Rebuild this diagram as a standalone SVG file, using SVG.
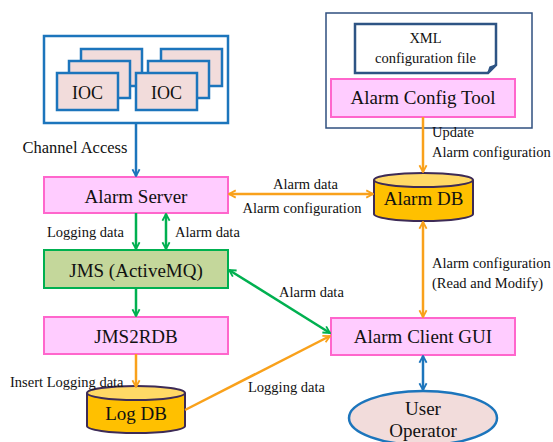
<svg xmlns="http://www.w3.org/2000/svg" width="553" height="442" viewBox="0 0 553 442" font-family="'Liberation Serif', 'DejaVu Serif', serif">
<style>
text{font-family:'Liberation Serif','DejaVu Serif',serif;fill:#111}
.n{font-size:19px;text-anchor:middle}
.l{font-size:14.5px}
.pink{fill:#ffccff;stroke:#ff66cc;stroke-width:2}
.ioc{fill:#f2dcdb;stroke:#1c75bc;stroke-width:2.5}
.db{fill:#ffc000;stroke:#3d2b56;stroke-width:2}
.dbt{fill:#ffd966;stroke:#3d2b56;stroke-width:2}
.cb{stroke:#1c75bc;stroke-width:2.5;fill:none}
.cg{stroke:#00b050;stroke-width:2.5;fill:none}
.co{stroke:#f9a11b;stroke-width:2.5;fill:none}
</style>
<defs>
<marker id="ab" viewBox="0 0 10 10" refX="8.5" refY="5" markerWidth="9" markerHeight="11" markerUnits="userSpaceOnUse" orient="auto-start-reverse"><path d="M1,1 L8.5,5 L1,9" fill="none" stroke="#1c75bc" stroke-width="2"/></marker>
<marker id="ag" viewBox="0 0 10 10" refX="8.5" refY="5" markerWidth="9" markerHeight="11" markerUnits="userSpaceOnUse" orient="auto-start-reverse"><path d="M1,1 L8.5,5 L1,9" fill="none" stroke="#00b050" stroke-width="2"/></marker>
<marker id="ao" viewBox="0 0 10 10" refX="8.5" refY="5" markerWidth="9" markerHeight="11" markerUnits="userSpaceOnUse" orient="auto-start-reverse"><path d="M1,1 L8.5,5 L1,9" fill="none" stroke="#f9a11b" stroke-width="2"/></marker>
</defs>
<rect width="553" height="442" fill="#fff"/>

<g id="ioc-group">
<rect x="44" y="36" width="184" height="87" fill="#fff" stroke="#1c75bc" stroke-width="2.5"/>
<rect class="ioc" x="81" y="49" width="61" height="37"/>
<rect class="ioc" x="69" y="61" width="61" height="37"/>
<rect class="ioc" x="57" y="73" width="61" height="37"/>
<text class="n" x="87.5" y="99" style="font-size:18px">IOC</text>
<rect class="ioc" x="161" y="49" width="61" height="37"/>
<rect class="ioc" x="148" y="61" width="61" height="37"/>
<rect class="ioc" x="136" y="73" width="61" height="37"/>
<text class="n" x="166.5" y="99" style="font-size:18px">IOC</text>
</g>

<g id="config-group">
<rect x="326" y="13" width="206" height="115" fill="#fff" stroke="#2f4f7f" stroke-width="1.5"/>
</g>
<g id="xml-file">
<path d="M355,24 H496 V65 L488,73 H355 Z" fill="#fff" stroke="#2e5484" stroke-width="2.5"/>
<path d="M488,73 L490,67 L496,65 Z" fill="#2e5484" stroke="#2e5484" stroke-width="1.5"/>
<text x="425.5" y="43" style="font-size:14.5px;text-anchor:middle">XML</text>
<text x="425.5" y="63" style="font-size:14.5px;text-anchor:middle">configuration file</text>
</g>
<g id="alarm-config-tool">
<rect class="pink" x="331" y="79" width="184" height="38"/>
<text class="n" x="423" y="104">Alarm Config Tool</text>
</g>

<g id="alarm-server">
<rect class="pink" x="44" y="177" width="184" height="36"/>
<text class="n" x="136" y="203">Alarm Server</text>
</g>
<g id="jms">
<rect x="44" y="250" width="184" height="38" fill="#c4d79b" stroke="#00b050" stroke-width="2"/>
<text class="n" x="136" y="277">JMS (ActiveMQ)</text>
</g>
<g id="jms2rdb">
<rect class="pink" x="44" y="317" width="184" height="37"/>
<text class="n" x="136" y="343">JMS2RDB</text>
</g>
<g id="log-db">
<path class="db" d="M87,393 V426 A49,7 0 0 0 185,426 V393"/>
<ellipse class="dbt" cx="136" cy="393" rx="49" ry="7"/>
<text class="n" x="136" y="420">Log DB</text>
</g>
<g id="alarm-db">
<path class="db" d="M374,180 V214 A49.5,7 0 0 0 473,214 V180"/>
<ellipse class="dbt" cx="423.5" cy="180" rx="49.5" ry="7"/>
<text class="n" x="423.5" y="205">Alarm DB</text>
</g>
<g id="alarm-client-gui">
<rect class="pink" x="331" y="318" width="184" height="37"/>
<text class="n" x="423" y="343">Alarm Client GUI</text>
</g>
<g id="user-operator">
<ellipse cx="423" cy="418" rx="74" ry="27" fill="#f2dcdb" stroke="#1c75bc" stroke-width="2.5"/>
<text class="n" x="423" y="415">User</text>
<text class="n" x="423" y="437">Operator</text>
</g>

<g id="connectors">
<line class="cb" x1="136" y1="123" x2="136" y2="176" marker-end="url(#ab)"/>
<line class="cg" x1="136" y1="213" x2="136" y2="249" marker-end="url(#ag)"/>
<line class="cg" x1="166" y1="214" x2="166" y2="249" marker-start="url(#ag)" marker-end="url(#ag)"/>
<line class="cg" x1="136" y1="288" x2="136" y2="316" marker-end="url(#ag)"/>
<line class="co" x1="136" y1="354" x2="136" y2="387" marker-end="url(#ao)"/>
<line class="co" x1="229" y1="194" x2="373" y2="194" marker-start="url(#ao)" marker-end="url(#ao)"/>
<line class="co" x1="423" y1="117" x2="423" y2="172" marker-end="url(#ao)"/>
<line class="co" x1="423" y1="222" x2="423" y2="317" marker-start="url(#ao)" marker-end="url(#ao)"/>
<line class="cg" x1="229" y1="270" x2="330" y2="333" marker-start="url(#ag)" marker-end="url(#ag)"/>
<line class="co" x1="185" y1="410" x2="330" y2="336" marker-end="url(#ao)"/>
<line class="cb" x1="423" y1="356" x2="423" y2="390" marker-start="url(#ab)" marker-end="url(#ab)"/>
<text x="22.5" y="153" style="font-size:16.5px">Channel Access</text>
<text class="l" x="47" y="237">Logging data</text>
<text class="l" x="175" y="237">Alarm data</text>
<text class="l" x="10" y="387">Insert Logging data</text>
<text class="l" x="305.5" y="189" text-anchor="middle">Alarm data</text>
<text class="l" x="302" y="213" text-anchor="middle">Alarm configuration</text>
<text class="l" x="432" y="137">Update</text>
<text class="l" x="432" y="157">Alarm configuration</text>
<text class="l" x="432" y="268">Alarm configuration</text>
<text class="l" x="432" y="288">(Read and Modify)</text>
<text class="l" x="279" y="297">Alarm data</text>
<text class="l" x="248" y="392">Logging data</text>
</g>
</svg>
